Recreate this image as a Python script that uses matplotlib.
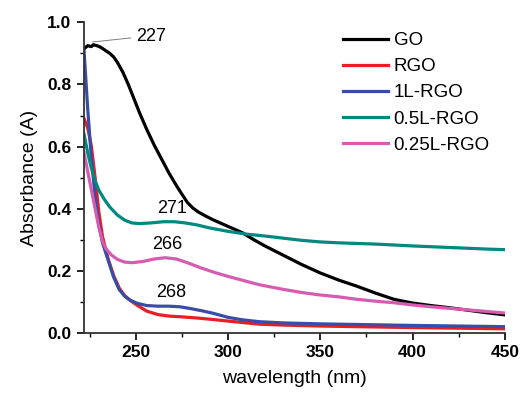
import matplotlib.pyplot as plt
from matplotlib.ticker import MultipleLocator

plt.rcParams['font.family'] = ['Liberation Sans', 'DejaVu Sans']

# GO
go_x = [222, 224, 226, 227, 229, 231, 233, 236, 238, 240, 243, 246, 249, 252, 256, 260, 264,
        268, 272, 275, 278, 281, 284, 288, 292, 300, 308, 314, 320, 330, 340, 350, 360, 370,
        380, 390, 400, 410, 420, 430, 440, 450]
go_y = [0.915, 0.925, 0.922, 0.928, 0.925, 0.92, 0.912, 0.90, 0.889, 0.872, 0.84, 0.80, 0.755,
        0.71, 0.655, 0.605, 0.56, 0.515, 0.475, 0.447, 0.42, 0.402, 0.389, 0.376, 0.364, 0.343,
        0.322, 0.30, 0.28, 0.25, 0.22, 0.193, 0.17, 0.15, 0.128, 0.108, 0.096, 0.088, 0.081,
        0.073, 0.065, 0.058]

# RGO
rgo_x = [222, 224, 226, 228, 230, 232, 235, 238, 241, 244, 247, 251, 256, 262, 268, 274, 283,
         292, 300, 317, 330, 350, 380, 400, 425, 450]
rgo_y = [0.69, 0.66, 0.60, 0.50, 0.39, 0.31, 0.24, 0.185, 0.145, 0.12, 0.105, 0.088, 0.07,
         0.059, 0.054, 0.052, 0.048, 0.043, 0.038, 0.028, 0.025, 0.022, 0.019, 0.017, 0.015,
         0.013]

# 1L-RGO
l1_x = [222, 224, 226, 228, 230, 232, 235, 238, 241, 244, 247, 251, 256, 262, 268, 274, 280,
        286, 292, 300, 308, 317, 330, 350, 380, 400, 425, 450]
l1_y = [0.91, 0.72, 0.56, 0.44, 0.35, 0.29, 0.235, 0.18, 0.14, 0.118, 0.105, 0.095, 0.088,
        0.086, 0.086, 0.084, 0.078, 0.071, 0.063, 0.05, 0.042, 0.036, 0.032, 0.029, 0.026,
        0.024, 0.022, 0.02]

# 0.5L-RGO
l05_x = [222, 224, 226, 228, 230, 233, 236, 240, 244, 248, 252, 258, 265, 271, 277, 283, 290,
         300, 310, 320, 330, 340, 350, 360, 370, 380, 390, 400, 420, 440, 450]
l05_y = [0.64, 0.58, 0.53, 0.49, 0.46, 0.43, 0.405, 0.38, 0.363, 0.354, 0.352, 0.354, 0.358,
         0.358, 0.354, 0.348, 0.338, 0.327, 0.318, 0.312, 0.305, 0.298, 0.293, 0.29, 0.288,
         0.286, 0.283, 0.28, 0.275, 0.27, 0.268]

# 0.25L-RGO
l025_x = [222, 224, 226, 228, 230, 232, 234, 237, 240, 244, 248, 254, 260, 266, 272, 278, 285,
          292, 300, 310, 317, 330, 340, 350, 360, 370, 380, 390, 400, 410, 420, 430, 440, 450]
l025_y = [0.58, 0.52, 0.46, 0.40, 0.34, 0.295, 0.27, 0.25, 0.237, 0.228, 0.226, 0.23, 0.238,
          0.242, 0.238, 0.226, 0.21, 0.196, 0.182, 0.166, 0.155, 0.14, 0.13, 0.122, 0.116,
          0.108, 0.102, 0.097, 0.09, 0.084, 0.079, 0.074, 0.069, 0.064]

series = [
    ('GO', go_x, go_y, 'black'),
    ('RGO', rgo_x, rgo_y, '#ec1c24'),
    ('1L-RGO', l1_x, l1_y, '#3a4da6'),
    ('0.5L-RGO', l05_x, l05_y, '#00897e'),
    ('0.25L-RGO', l025_x, l025_y, '#d75bb0'),
]

fig = plt.figure(figsize=(5.22, 3.93), dpi=100)
ax = fig.add_axes([0.161, 0.153, 0.806, 0.790])

for label, xs, ys, c in series:
    ax.plot(xs, ys, color=c, linewidth=2.3, label=label)

ax.set_xlim(222, 450)
ax.set_ylim(0, 1.0)
ax.xaxis.set_major_locator(MultipleLocator(50))
ax.xaxis.set_minor_locator(MultipleLocator(25))
ax.yaxis.set_major_locator(MultipleLocator(0.2))
ax.yaxis.set_minor_locator(MultipleLocator(0.1))
ax.yaxis.set_major_formatter(plt.FuncFormatter(lambda v, p: f'{v:.1f}'))

for s in ['top', 'right']:
    ax.spines[s].set_visible(False)
for s in ['left', 'bottom']:
    ax.spines[s].set_linewidth(1.3)
    ax.spines[s].set_color('#333333')

ax.tick_params(which='major', direction='out', length=5, width=1.2, labelsize=12.5, pad=4)
ax.tick_params(which='minor', direction='out', length=3, width=1.0)
for t in ax.get_xticklabels() + ax.get_yticklabels():
    t.set_fontweight('bold')

ax.set_xlabel('wavelength (nm)', fontsize=14, labelpad=7)
ax.set_ylabel('Absorbance (A)', fontsize=14, labelpad=7)

# peak annotations
ax.plot([226.8, 247.3], [0.937, 0.95], color='gray', linewidth=0.7)
ax.text(250, 0.953, '227', fontsize=13, ha='left', va='center')
ax.text(269.5, 0.372, '271', fontsize=13, ha='center', va='bottom')
ax.text(267, 0.258, '266', fontsize=13, ha='center', va='bottom')
ax.text(269, 0.104, '268', fontsize=13, ha='center', va='bottom')

ax.legend(loc='upper left', bbox_to_anchor=(343 / 522, 1 - 32 / 393),
          bbox_transform=fig.transFigure, frameon=False, fontsize=13.5,
          handlelength=2.4, handletextpad=0.3, labelspacing=0.48,
          borderpad=0, borderaxespad=0)

fig.savefig('out.png', dpi=100)
